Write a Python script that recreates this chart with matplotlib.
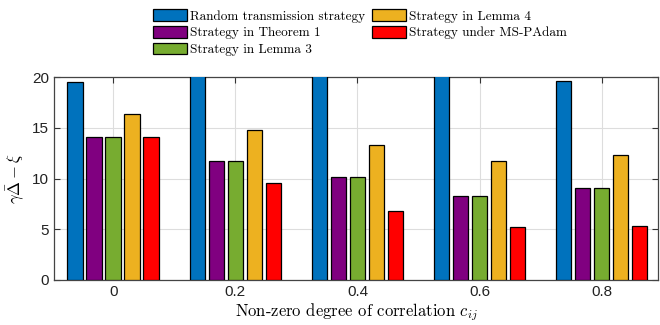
import numpy as np
import matplotlib
matplotlib.use("Agg")
import matplotlib.pyplot as plt

plt.rcParams['mathtext.fontset'] = 'cm'
plt.rcParams['axes.unicode_minus'] = False

correlation = [0, 0.2, 0.4, 0.6, 0.8]
tick_labels = ["0", "0.2", "0.4", "0.6", "0.8"]

random_tx = [19.55, 23.0, 24.5, 26.0, 19.65]
theorem1 = [14.05, 11.75, 10.1, 8.25, 9.1]
lemma3 = [14.05, 11.75, 10.1, 8.25, 9.1]
lemma4 = [16.4, 14.75, 13.35, 11.7, 12.3]
ms_padam = [14.05, 9.6, 6.8, 5.2, 5.35]

series = [
    ("Random transmission strategy", random_tx, "#0072BD"),
    ("Strategy in Theorem 1", theorem1, "#800080"),
    ("Strategy in Lemma 3", lemma3, "#77AC30"),
    ("Strategy in Lemma 4", lemma4, "#EDB120"),
    ("Strategy under MS-PAdam", ms_padam, "#FF0000"),
]

fig = plt.figure(figsize=(6.6, 3.25), dpi=100)
ax = fig.add_axes([0.0818, 0.1385, 0.915, 0.6245])

x = np.array(correlation)
pitch = 0.0311
width = 0.0254
for i, (label, vals, color) in enumerate(series):
    ax.bar(x + (i - 2) * pitch, vals, width=width, color=color,
           edgecolor="black", linewidth=0.9, label=label, zorder=3)

ax.set_xlim(-0.097, 0.892)
ax.set_ylim(0, 20)
ax.set_xticks(correlation)
ax.set_xticklabels(tick_labels)
ax.set_yticks([0, 5, 10, 15, 20])
ax.grid(True, color="#dddddd", linewidth=0.8, zorder=0)
ax.tick_params(direction="in", top=True, right=True, length=4,
               labelsize=11, color="#333333", labelcolor="#222222")
for lbl in ax.get_xticklabels() + ax.get_yticklabels():
    lbl.set_family("Liberation Sans")
for s in ax.spines.values():
    s.set_color("#444444")
    s.set_linewidth(0.9)

ax.set_xlabel(r"Non-zero degree of correlation $c_{ij}$", family="cmr10", fontsize=12, labelpad=2)
ax.set_ylabel(r"$\gamma\bar{\Delta}-\xi$", fontsize=12, labelpad=4)

fig.legend(loc="upper center", bbox_to_anchor=(0.545, 1.0), ncol=2, frameon=False,
           prop={"family": "cmr10", "size": 9.5}, handlelength=2.6, handleheight=1.0,
           handletextpad=0.2, labelspacing=0.25, columnspacing=0.5, borderaxespad=0.3)

fig.savefig("out.png", dpi=100)
